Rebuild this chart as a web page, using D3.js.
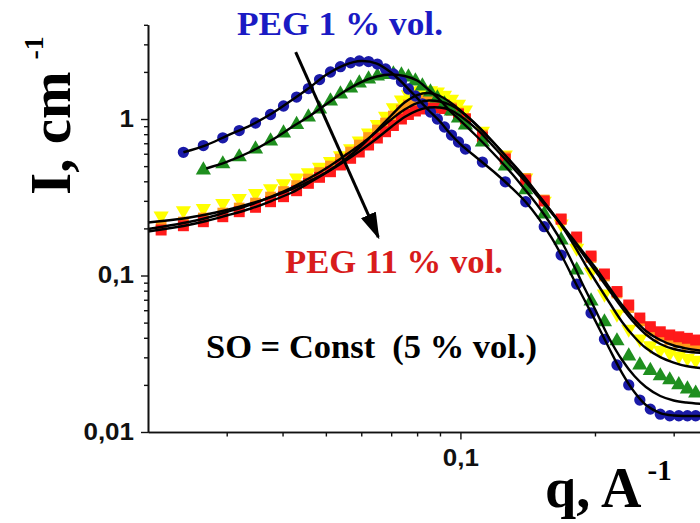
<!DOCTYPE html>
<html>
<head>
<meta charset="utf-8">
<script src="https://cdn.jsdelivr.net/npm/d3@7"></script>
<style>
  html, body { margin: 0; padding: 0; background: #fff; }
  svg { display: block; }
</style>
</head>
<body>
<svg id="chart" width="700" height="523"></svg>
<script>
// Scattering vector q (1/A) at which intensities were measured
const qData = [0.0214, 0.0240, 0.0266, 0.0294, 0.0320, 0.0348, 0.0376, 0.0402, 0.0430, 0.0457,
               0.0484, 0.0512, 0.0539, 0.0568, 0.0594, 0.0623, 0.0652, 0.0680, 0.0708, 0.0738,
               0.0765, 0.0793, 0.0822, 0.0857, 0.0888, 0.0921, 0.0955, 0.0990, 0.1026, 0.112,
               0.126, 0.140, 0.154, 0.168, 0.182, 0.196, 0.210, 0.224, 0.238, 0.252,
               0.266, 0.280, 0.294, 0.308, 0.322, 0.336];

// Measured intensity I (1/cm), one array per PEG content
const peg1 = [null, 0.613, 0.677, 0.758, 0.844, 0.943, 1.069, 1.211, 1.382, 1.566,
              1.788, 1.997, 2.159, 2.289, 2.348, 2.330, 2.246, 2.087, 1.939, 1.736,
              1.555, 1.403, 1.247, 1.108, 1.000, 0.889, 0.790, 0.713, 0.643, 0.531,
              0.397, 0.296, 0.205, 0.135, 0.0882, 0.0576, 0.0391, 0.0268, 0.0200, 0.0160,
              0.0140, 0.0130, 0.0127, 0.0127, 0.0127, 0.0127];
const pegB = [null, null, 0.472, 0.516, 0.572, 0.643, 0.723, 0.814, 0.922, 1.030,
              1.159, 1.303, 1.445, 1.578, 1.698, 1.801, 1.883, 1.925, 1.939, 1.910,
              1.855, 1.749, 1.625, 1.488, 1.362, 1.247, 1.125, 1.015, 0.915, 0.713,
              0.501, 0.352, 0.247, 0.1686, 0.1084, 0.0687, 0.0505, 0.0382, 0.0306, 0.0268,
              0.0247, 0.0228, 0.0215, 0.0200, 0.0188, 0.0177];
const pegC = [0.240, 0.2602, 0.268, 0.2892, 0.3105, 0.3342, 0.3596, 0.3871, 0.4198, 0.4550,
              0.4935, 0.5352, 0.5843, 0.6478, 0.7236, 0.8141, 0.9224, 1.045, 1.184, 1.323,
              1.434, 1.510, 1.532, 1.521, 1.488, 1.423, 1.342, 1.247, 1.142, 0.838,
              0.589, 0.420, 0.299, 0.2134, 0.1498, 0.1053, 0.0762, 0.0568, 0.0455, 0.0393,
              0.0357, 0.0334, 0.0320, 0.0306, 0.0297, 0.0288];
const pegD = [0.2072, 0.2197, 0.2331, 0.2507, 0.2700, 0.2905, 0.3174, 0.3440, 0.3758, 0.4136,
              0.4550, 0.5006, 0.5551, 0.6153, 0.6822, 0.7614, 0.8507, 0.9428, 1.045, 1.142,
              1.229, 1.284, 1.313, 1.313, 1.284, 1.238, 1.176, 1.092, 1.007, 0.790,
              0.572, 0.4168, 0.3037, 0.2280, 0.1724, 0.1303, 0.0993, 0.0773, 0.0624, 0.0512,
              0.0445, 0.0411, 0.0387, 0.0373, 0.0362, 0.0354];
const peg11 = [0.1953, 0.208, 0.2207, 0.2375, 0.2557, 0.2728, 0.2962, 0.3189, 0.3482, 0.3882,
               0.4240, 0.4605, 0.5083, 0.5609, 0.6153, 0.6822, 0.756, 0.8295, 0.9088, 1.000,
               1.069, 1.125, 1.159, 1.176, 1.176, 1.167, 1.142, 1.076, 1.000, 0.767,
               0.555, 0.4076, 0.2992, 0.2297, 0.1762, 0.1332, 0.1023, 0.0790, 0.0648, 0.0535,
               0.0471, 0.0437, 0.0417, 0.0406, 0.0397, 0.0387];

// Model fits evaluated on a coarser q grid
const qFit = [0.020, 0.024, 0.027, 0.030, 0.034, 0.038, 0.042, 0.046, 0.050, 0.055,
              0.060, 0.065, 0.070, 0.075, 0.080, 0.085, 0.090, 0.095, 0.100, 0.110,
              0.120, 0.130, 0.140, 0.150, 0.160, 0.170, 0.180, 0.190, 0.200, 0.215,
              0.230, 0.245, 0.260, 0.280, 0.300, 0.320, 0.350];
const fit1 = [null, 0.613, 0.682, 0.781, 0.915, 1.092, 1.323, 1.590, 1.910, 2.213,
              2.348, 2.263, 1.982, 1.649, 1.362, 1.133, 0.964, 0.802, 0.692, 0.551,
              0.4485, 0.3649, 0.2948, 0.2297, 0.1737, 0.1274, 0.0922, 0.0687, 0.0519, 0.0344,
              0.0238, 0.0180, 0.01488, 0.01322, 0.01275, 0.01266, 0.01266];
const fitB = [null, null, 0.4829, 0.5313, 0.6199, 0.7396, 0.8889, 1.045, 1.238, 1.499,
              1.723, 1.869, 1.925, 1.883, 1.762, 1.532, 1.323, 1.117, 0.978, 0.7506,
              0.5803, 0.4518, 0.3493, 0.2720, 0.2087, 0.1566, 0.1133, 0.0820, 0.0611, 0.0399,
              0.02884, 0.02279, 0.01939, 0.01698, 0.01590, 0.01543, 0.01510];
const fitC = [0.2182, 0.2313, 0.2454, 0.2621, 0.2885, 0.3197, 0.3570, 0.4016, 0.4551, 0.5470,
              0.6723, 0.8443, 1.0529, 1.2747, 1.4234, 1.4659, 1.4028, 1.2747, 1.1332, 0.8825,
              0.6822, 0.5313, 0.4168, 0.3221, 0.2546, 0.1997, 0.1543, 0.1184, 0.0936, 0.0677,
              0.0505, 0.0405, 0.0344, 0.0301, 0.0278, 0.0264, 0.0255];
const fitD = [0.1982, 0.2165, 0.2330, 0.2546, 0.2842, 0.3221, 0.3650, 0.4198, 0.4829, 0.5803,
              0.6922, 0.8321, 0.9927, 1.1500, 1.2655, 1.3129, 1.2938, 1.2288, 1.1249, 0.8889,
              0.6822, 0.5272, 0.4107, 0.3221, 0.2546, 0.2026, 0.1625, 0.1313, 0.1076, 0.0808,
              0.0620, 0.0497, 0.0420, 0.0365, 0.0339, 0.0327, 0.0320];
const fit11 = [0.1910, 0.2072, 0.2229, 0.2417, 0.2680, 0.3015, 0.3392, 0.3929, 0.4519, 0.5351,
               0.6338, 0.7506, 0.8889, 1.0299, 1.1332, 1.1844, 1.1844, 1.1416, 1.0452, 0.8380,
               0.6430, 0.5006, 0.3958, 0.3128, 0.2507, 0.2041, 0.1661, 0.1362, 0.1133, 0.0844,
               0.0648, 0.0523, 0.0442, 0.0387, 0.0357, 0.0342, 0.0329];

// Axis ticks
const xMajor = [0.1];
const xMajorLabels = ["0,1"];
const xMinor = [0.03, 0.04, 0.05, 0.06, 0.07, 0.08, 0.09, 0.2, 0.3];
const yMajor = [0.01, 0.1, 1];
const yMajorLabels = ["0,01", "0,1", "1"];
const yMinor = [0.02, 0.03, 0.04, 0.05, 0.06, 0.07, 0.08, 0.09,
                0.2, 0.3, 0.4, 0.5, 0.6, 0.7, 0.8, 0.9, 2, 3, 4];

// Arrow showing the direction of increasing PEG content (data coordinates)
const arrowFrom = [0.0428, 2.68];
const arrowTo = [0.0655, 0.176];

// Drawn from back to front
const series = [
  { values: pegC,  fit: fitC,  color: "#ffff00", shape: "down",   size: 100 },
  { values: pegD,  fit: fitD,  color: "#ff9a1a", shape: "square", size: 115 },
  { values: peg11, fit: fit11, color: "#ff1a1a", shape: "square", size: 120 },
  { values: pegB,  fit: fitB,  color: "#1f8f1f", shape: "up",     size: 100 },
  { values: peg1,  fit: fit1,  color: "#1a1aa8", shape: "circle", size: 100 }
];

const svg = d3.select("#chart");
const x = d3.scaleLog().domain([0.02, 0.35]).range([148, 703.6]);
const y = d3.scaleLog().domain([0.01, 4]).range([432, 24.8]);

const sans = "'Liberation Sans', Arial, sans-serif";
const serif = "'Liberation Serif', 'Times New Roman', serif";

// Markers
const shapes = {
  circle: d3.symbolCircle,
  square: d3.symbolSquare,
  up: d3.symbolTriangle,
  down: d3.symbolTriangle
};
series.forEach(s => {
  const pts = qData.map((q, i) => ({ q, v: s.values[i] })).filter(d => d.v != null);
  svg.append("g")
    .selectAll("path")
    .data(pts)
    .join("path")
    .attr("d", d3.symbol().type(shapes[s.shape]).size(s.size))
    .attr("transform", d => `translate(${x(d.q)},${y(d.v)})` + (s.shape === "down" ? " rotate(180)" : ""))
    .attr("fill", s.color);
});

// Fit curves
const line = d3.line()
  .defined(d => d.v != null)
  .x(d => x(d.q))
  .y(d => y(d.v))
  .curve(d3.curveCatmullRom.alpha(0.5));
series.forEach(s => {
  const pts = qFit.map((q, i) => ({ q, v: s.fit[i] }));
  svg.append("path")
    .datum(pts)
    .attr("d", line)
    .attr("fill", "none")
    .attr("stroke", "#000")
    .attr("stroke-width", 2.4);
});

// Stretch a text element horizontally by a factor
function widen(sel, k) {
  sel.each(function () {
    const w = this.getComputedTextLength();
    d3.select(this).attr("textLength", w * k).attr("lengthAdjust", "spacingAndGlyphs");
  });
}

// Axes
function styleAxis(g) {
  g.select(".domain").attr("stroke", "#111").attr("stroke-width", 1.6);
  g.selectAll(".tick line").attr("stroke", "#111").attr("stroke-width", 1.4);
  g.selectAll(".tick text")
    .attr("fill", "#111")
    .style("font-family", sans)
    .style("font-weight", "bold")
    .style("font-size", "23px")
    .call(widen, 1.13);
}

svg.append("g")
  .attr("transform", "translate(0,432)")
  .call(d3.axisBottom(x).tickValues(xMinor).tickSize(4.5).tickSizeOuter(0).tickFormat(""))
  .call(styleAxis);
svg.append("g")
  .attr("transform", "translate(0,432)")
  .call(d3.axisBottom(x).tickValues(xMajor).tickSize(7.5).tickSizeOuter(0).tickPadding(10)
        .tickFormat((d, i) => xMajorLabels[i]))
  .call(styleAxis);

svg.append("g")
  .attr("transform", "translate(148,0)")
  .call(d3.axisLeft(y).tickValues(yMinor).tickSize(4).tickSizeOuter(0).tickFormat(""))
  .call(styleAxis);
svg.append("g")
  .attr("transform", "translate(148,0)")
  .call(d3.axisLeft(y).tickValues(yMajor).tickSize(7).tickSizeOuter(0).tickPadding(7)
        .tickFormat((d, i) => yMajorLabels[i]))
  .call(styleAxis);

// Axis titles
const yTitle = svg.append("text")
  .attr("transform", "translate(70,195) rotate(-90)")
  .style("font-family", serif)
  .style("font-weight", "bold")
  .style("font-size", "57px")
  .attr("fill", "#000");
yTitle.append("tspan").text("I, cm");
yTitle.append("tspan").attr("dx", 12).attr("dy", -27).style("font-size", "28px").text("-1");

const xTitle = svg.append("text")
  .attr("x", 545).attr("y", 507)
  .style("font-family", serif)
  .style("font-weight", "bold")
  .style("font-size", "56px")
  .attr("fill", "#000");
xTitle.append("tspan").text("q, A");
xTitle.append("tspan").attr("dx", 6).attr("dy", -27).style("font-size", "29px").text("-1");

// Arrow
const defs = svg.append("defs");
defs.append("marker")
  .attr("id", "head")
  .attr("viewBox", "0 0 10 6")
  .attr("refX", 9).attr("refY", 3)
  .attr("markerWidth", 9).attr("markerHeight", 5.4)
  .attr("markerUnits", "strokeWidth")
  .attr("orient", "auto")
  .append("path")
  .attr("d", "M0,0 L10,3 L0,6 Z")
  .attr("fill", "#000");
svg.append("line")
  .attr("x1", x(arrowFrom[0])).attr("y1", y(arrowFrom[1]))
  .attr("x2", x(arrowTo[0])).attr("y2", y(arrowTo[1]))
  .attr("stroke", "#000")
  .attr("stroke-width", 3)
  .attr("marker-end", "url(#head)");

// Annotations
function note(txt, px, py, color, width) {
  svg.append("text")
    .attr("x", px).attr("y", py)
    .style("font-family", serif)
    .style("font-weight", "bold")
    .style("font-size", "33px")
    .style("white-space", "pre")
    .attr("fill", color)
    .attr("textLength", width)
    .attr("lengthAdjust", "spacingAndGlyphs")
    .text(txt);
}
note("PEG 1 % vol.", 237, 35, "#1a1ac4", 206);
note("PEG 11 % vol.", 285, 273, "#d81c1c", 218);
note("SO = Const  (5 % vol.)", 206, 358, "#000", 331);
</script>
</body>
</html>
